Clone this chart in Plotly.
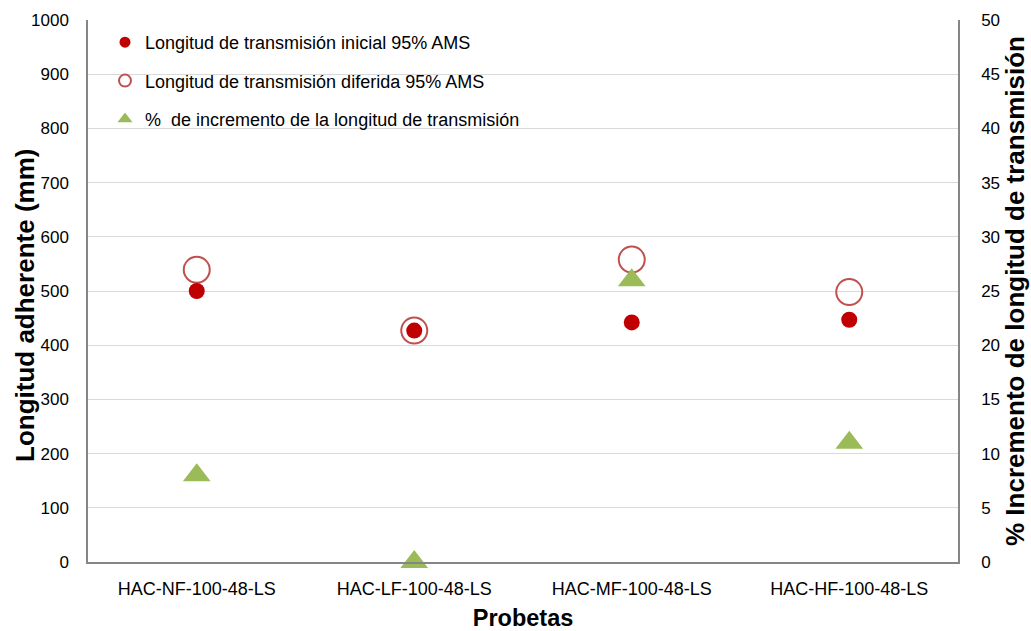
import plotly.graph_objects as go

# Specimens and measured transfer lengths
probetas = ["HAC-NF-100-48-LS", "HAC-LF-100-48-LS", "HAC-MF-100-48-LS", "HAC-HF-100-48-LS"]
long_inicial = [500, 427, 442, 447]      # mm
long_diferida = [539, 427, 558, 498]     # mm
incremento = [8, 0, 26, 11]              # %

nombres = [
    "Longitud de transmisión inicial 95% AMS",
    "Longitud de transmisión diferida 95% AMS",
    "%  de incremento de la longitud de transmisión",
]

ROJO = "#C00000"
ROJO_CLARO = "#C0504D"
VERDE = "#9BBB59"
FUENTE = "Liberation Sans, Arial, sans-serif"

fig = go.Figure()

# Data traces
fig.add_trace(go.Scatter(
    x=probetas, y=long_diferida, mode="markers", showlegend=False, cliponaxis=False,
    marker=dict(symbol="circle-open", size=26, color=ROJO_CLARO, line=dict(width=2, color=ROJO_CLARO)),
))
fig.add_trace(go.Scatter(
    x=probetas, y=long_inicial, mode="markers", showlegend=False, cliponaxis=False,
    marker=dict(symbol="circle", size=16, color=ROJO),
))
fig.add_trace(go.Scatter(
    x=probetas, y=incremento, mode="markers", showlegend=False, yaxis="y2", cliponaxis=False,
    marker=dict(symbol="triangle-up", size=24, color=VERDE),
))

# Legend keys
fig.add_trace(go.Scatter(x=[None], y=[None], mode="markers", name=nombres[0], legendgroup="a",
                         marker=dict(symbol="circle", size=11, color=ROJO)))
fig.add_trace(go.Scatter(x=[None], y=[None], mode="markers", name=nombres[1], legendgroup="b",
                         marker=dict(symbol="circle-open", size=12, color=ROJO_CLARO, line=dict(width=2))))
fig.add_trace(go.Scatter(x=[None], y=[None], mode="markers", name=nombres[2], legendgroup="c",
                         marker=dict(symbol="triangle-up", size=13, color=VERDE)))

L, R, T, B = 88, 73, 20, 69
plot_w = 1031 - L - R
plot_h = 631 - T - B

fig.update_layout(
    width=1031, height=631,
    margin=dict(l=L, r=R, t=T, b=B),
    paper_bgcolor="white", plot_bgcolor="white",
    font=dict(family=FUENTE, size=17, color="#000000"),
    showlegend=True,
    legend=dict(
        x=(105 - L) / plot_w, y=1 - (24 - T) / plot_h,
        xanchor="left", yanchor="top",
        font=dict(size=18, family=FUENTE), bgcolor="rgba(0,0,0,0)",
        tracegroupgap=12, itemsizing="trace",
    ),
    xaxis=dict(
        type="category", range=[-0.5, 3.5], automargin=False,
        showline=True, linecolor="#868686", linewidth=1.5,
        showgrid=False, ticks="", ticklabelstandoff=10,
        tickfont=dict(size=18),
        title=dict(text="<b>Probetas</b>", font=dict(size=23.5), standoff=17),
    ),
    yaxis=dict(
        range=[0, 1000], dtick=100, automargin=False,
        showline=True, linecolor="#868686", linewidth=1.5,
        showgrid=True, gridcolor="#D9D9D9", gridwidth=1,
        ticks="", ticklabelstandoff=14, tickfont=dict(size=17),
        zeroline=False,
    ),
    yaxis2=dict(
        range=[0, 50], dtick=5, overlaying="y", side="right", automargin=False,
        showline=True, linecolor="#868686", linewidth=1.5,
        showgrid=False, ticks="", ticklabelstandoff=18, tickfont=dict(size=17),
        zeroline=False,
        title=dict(text="<b>% Incremento de longitud de transmisión</b>", font=dict(size=26), standoff=3),
    ),
)

# Left axis title
fig.add_annotation(
    text="<b>Longitud adherente (mm)</b>", textangle=-90,
    xref="paper", yref="paper",
    x=(25 - L) / plot_w, y=1 - (306 - T) / plot_h,
    xanchor="center", yanchor="middle", showarrow=False,
    font=dict(size=26, family=FUENTE, color="#000000"),
)

fig.write_html("out.html")
